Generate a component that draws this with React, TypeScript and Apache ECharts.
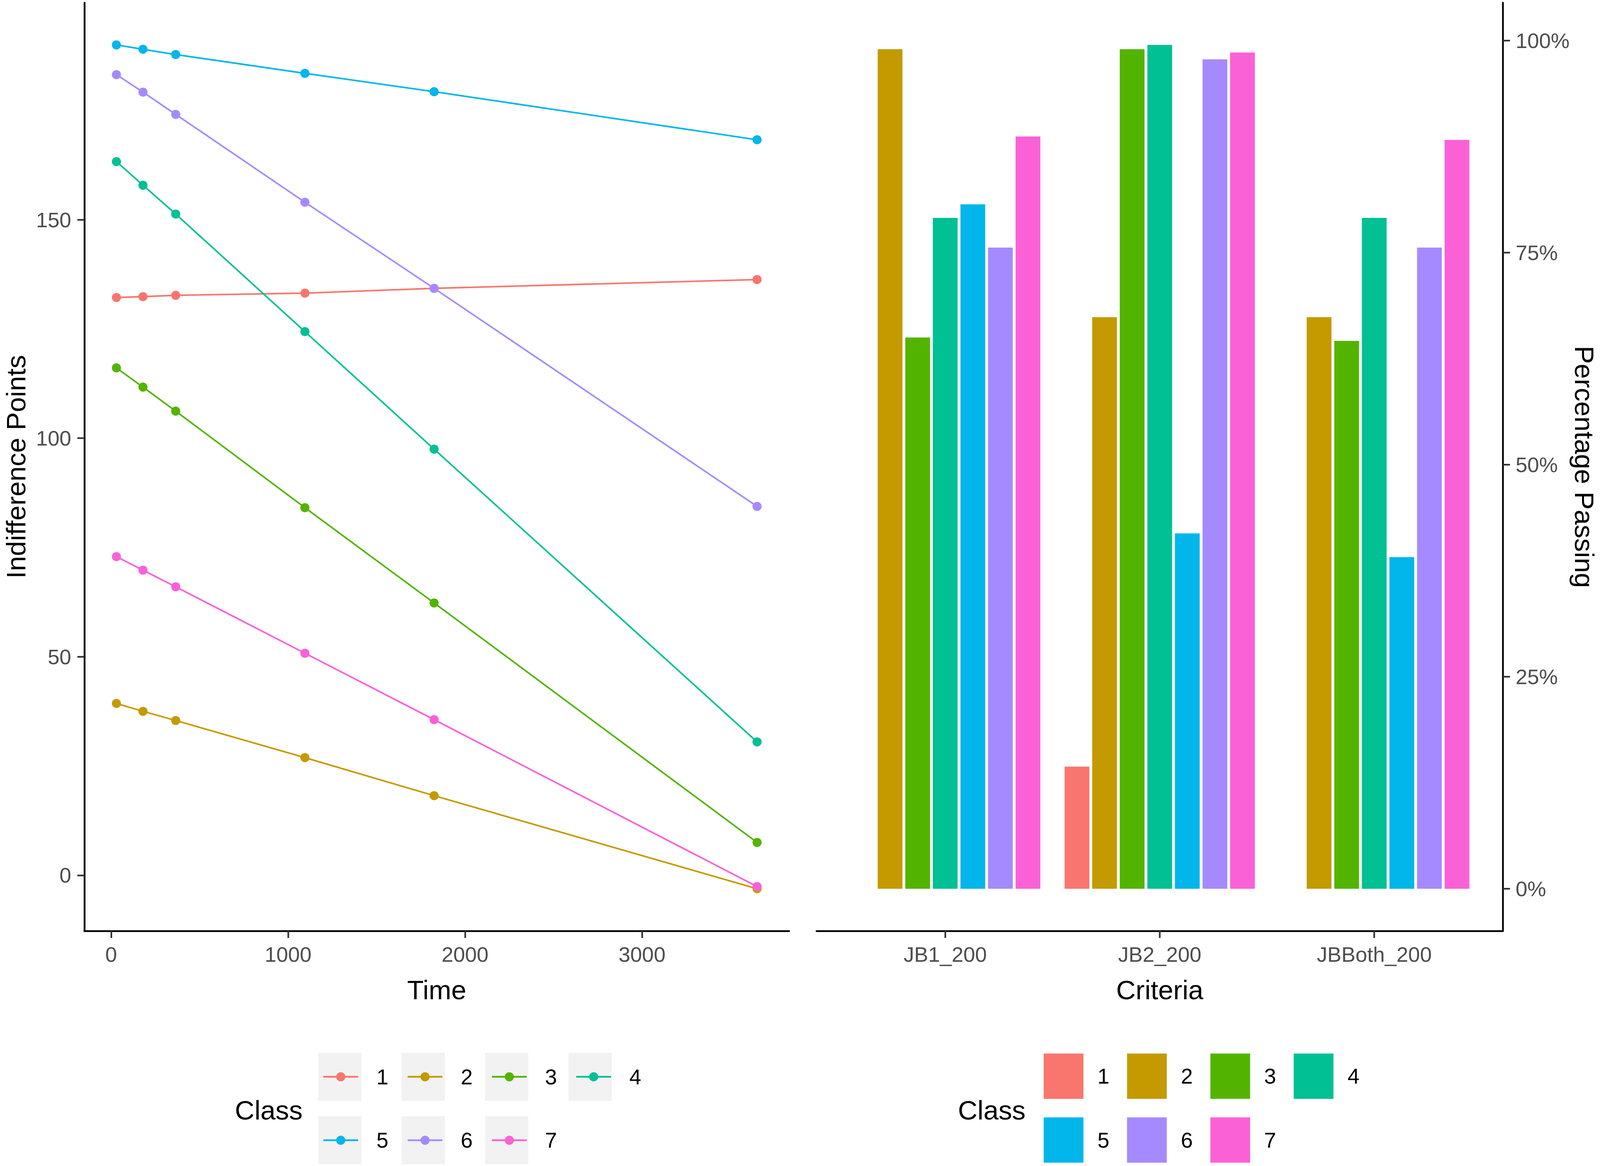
import React, { useEffect, useRef } from "react";
import * as echarts from "echarts";

// ---------- data ----------
const times = [30, 180, 365, 1095, 1825, 3650];
const classes = ["1", "2", "3", "4", "5", "6", "7"];
const classColors = ["#F8766D", "#C49A00", "#53B400", "#00C094", "#00B6EB", "#A58AFF", "#FB61D7"];

// Indifference points per class at each time
const ipClass1 = [132.2, 132.4, 132.7, 133.2, 134.3, 136.3];
const ipClass2 = [39.3, 37.5, 35.4, 26.9, 18.2, -3.1];
const ipClass3 = [116.1, 111.7, 106.2, 84.1, 62.3, 7.5];
const ipClass4 = [163.3, 157.9, 151.3, 124.4, 97.5, 30.5];
const ipClass5 = [190.0, 189.0, 187.8, 183.5, 179.3, 168.3];
const ipClass6 = [183.2, 179.2, 174.1, 154.0, 134.3, 84.4];
const ipClass7 = [72.9, 69.8, 66.0, 50.8, 35.6, -2.6];

// Percentage passing per class for each criterion
const criteria = ["JB1_200", "JB2_200", "JBBoth_200"];
const passClass1 = [null, 14.4, null];
const passClass2 = [99.0, 67.4, 67.4];
const passClass3 = [65.0, 99.0, 64.6];
const passClass4 = [79.1, 99.5, 79.1];
const passClass5 = [80.7, 41.9, 39.1];
const passClass6 = [75.6, 97.8, 75.6];
const passClass7 = [88.7, 98.6, 88.3];

// tick labels
const timeTicks = [0, 1000, 2000, 3000];
const ipTicks = [0, 50, 100, 150];
const pctTicks = [0, 25, 50, 75, 100];

const ipByClass = [ipClass1, ipClass2, ipClass3, ipClass4, ipClass5, ipClass6, ipClass7];
const passByClass: any[] = [passClass1, passClass2, passClass3, passClass4, passClass5, passClass6, passClass7];

const FONT = "'Liberation Sans', Arial, Helvetica, sans-serif";
const REF_W = 4550;
const REF_H = 2986;

function expand(vals: number[]) {
  const mn = Math.min(...vals);
  const mx = Math.max(...vals);
  const pad = 0.05 * (mx - mn);
  return [mn - pad, mx + pad];
}

export default function App() {
  const ref = useRef<HTMLDivElement>(null);
  useEffect(() => {
    document.body.style.margin = "0";
    document.body.style.overflow = "hidden";
    document.documentElement.style.overflow = "hidden";
    const el = ref.current;
    if (!el) return;
    const W = window.innerWidth || REF_W;
    const H = window.innerHeight || REF_H;
    el.style.width = W + "px";
    el.style.height = H + "px";
    const sx = W / REF_W;
    const sy = H / REF_H;
    const f = Math.min(sx, sy);
    const X = (v: number) => v * sx;
    const Y = (v: number) => v * sy;
    const F = (v: number) => v * f;

    const TICK_FS = F(60);
    const TITLE_FS = F(77);
    const LEG_FS = F(61);

    const chart = echarts.init(el, null, { renderer: "svg", width: W, height: H });

    const [tMin, tMax] = expand(times);
    const [ipMin, ipMax] = expand(ipByClass.flat());
    const passVals = passByClass.flat().filter((v: any) => v != null) as number[];
    const [pMin, pMax] = expand([0, ...passVals]);

    const axisLine = { show: true, onZero: false, lineStyle: { color: "#000", width: F(5) } };
    const axisTick = { show: true, length: F(20), lineStyle: { color: "#333333", width: F(4.7) } };
    const labelBase = { color: "#4D4D4D", fontSize: TICK_FS, fontFamily: FONT };
    const nameStyle = { color: "#000", fontSize: TITLE_FS, fontFamily: FONT };

    const lineSeries = classes.map((c, i) => ({
      type: "line",
      name: c,
      xAxisIndex: 0,
      yAxisIndex: 0,
      data: times.map((t, j) => [t, ipByClass[i][j]]),
      symbol: "circle",
      symbolSize: F(26),
      showAllSymbol: true,
      color: classColors[i],
      lineStyle: { width: F(4.5), color: classColors[i] },
      itemStyle: { color: classColors[i] },
      emphasis: { disabled: true },
      silent: true,
    }));

    const barSeries = classes.map((c, i) => ({
      type: "bar",
      name: "bar-" + c,
      xAxisIndex: 1,
      yAxisIndex: 1,
      data: passByClass[i],
      barGap: "11.4%",
      barCategoryGap: "11.3%",
      color: classColors[i],
      itemStyle: { color: classColors[i] },
      emphasis: { disabled: true },
      silent: true,
    }));

    const digitW = 0.556 * LEG_FS;
    // line legend: key boxes 123 wide, line 99 wide centred, text 40 after box
    const lineIconW = X(99);
    const linePad = X(52) - 5;
    const lineGap = X(237.2) - lineIconW - 5 - linePad - digitW;
    const lineLegendCommon = {
      orient: "horizontal",
      left: X(917),
      itemWidth: lineIconW,
      itemHeight: F(32.5),
      itemGap: lineGap,
      padding: 0,
      selectedMode: false,
      lineStyle: { width: F(5) },
      itemStyle: { borderWidth: 0 },
      textStyle: { fontSize: LEG_FS, color: "#000", fontFamily: FONT, padding: [0, 0, 0, linePad], lineHeight: LEG_FS },
    };
    const barIconW = X(113);
    const barPad = X(40) - 5;
    const barGapL = X(237) - barIconW - 5 - barPad - digitW;
    const barLegendCommon = {
      orient: "horizontal",
      left: X(2968),
      itemWidth: barIconW,
      itemHeight: Y(116),
      itemGap: barGapL,
      padding: 0,
      icon: "rect",
      selectedMode: false,
      itemStyle: { borderWidth: 0 },
      formatter: (n: string) => n.replace("bar-", ""),
      textStyle: { fontSize: LEG_FS, color: "#000", fontFamily: FONT, padding: [0, 0, 0, barPad], lineHeight: LEG_FS },
    };

    const keyCenters = [966.5, 1203.7, 1440.9, 1678.1];
    const keyRects: any[] = [];
    const addKey = (cx: number, cy: number) =>
      keyRects.push({
        type: "rect",
        shape: { x: X(cx - 61.5), y: Y(cy - 61.5), width: X(123), height: Y(123) },
        style: { fill: "#F2F2F2" },
        z: -10,
        silent: true,
      });
    keyCenters.forEach((cx) => addKey(cx, 2757.5));
    keyCenters.slice(0, 3).forEach((cx) => addKey(cx, 2920));

    const classTitle = (x: number) => ({
      type: "text",
      x: X(x),
      y: Y(2843),
      silent: true,
      style: {
        text: "Class",
        fontSize: TITLE_FS,
        fontFamily: FONT,
        fill: "#000",
        align: "left",
        verticalAlign: "middle",
        textAlign: "left",
        textVerticalAlign: "middle",
      },
    });

    const gridCommon = { containLabel: false, outerBoundsMode: "none" };
    const option: any = {
      animation: false,
      backgroundColor: "#ffffff",
      grid: [
        { ...gridCommon, left: X(240), top: Y(7), width: X(2004), height: Y(2377) },
        { ...gridCommon, left: X(2383), top: Y(7), width: X(1830), height: Y(2377) },
        { ...gridCommon, left: X(2322), top: Y(7), width: X(1952), height: Y(2377) },
      ],
      xAxis: [
        {
          type: "value",
          gridIndex: 0,
          min: tMin,
          max: tMax,
          name: "Time",
          nameLocation: "middle",
          nameGap: Y(116.5),
          nameMoveOverlap: false,
          nameTextStyle: nameStyle,
          axisLine,
          axisTick: { ...axisTick, customValues: timeTicks },
          axisLabel: { ...labelBase, margin: Y(33), customValues: timeTicks, formatter: (v: number) => String(v) },
          splitLine: { show: false },
        },
        {
          type: "category",
          gridIndex: 1,
          data: criteria,
          boundaryGap: true,
          name: "Criteria",
          nameLocation: "middle",
          nameGap: Y(116.5),
          nameMoveOverlap: false,
          nameTextStyle: nameStyle,
          axisLine: { show: false, onZero: false },
          axisTick: { ...axisTick, alignWithLabel: true },
          axisLabel: { ...labelBase, margin: Y(33), interval: 0 },
          splitLine: { show: false },
        },
        {
          type: "value",
          gridIndex: 2,
          min: 0,
          max: 1,
          axisLine,
          axisTick: { show: false },
          axisLabel: { show: false },
          splitLine: { show: false },
        },
      ],
      yAxis: [
        {
          type: "value",
          gridIndex: 0,
          min: ipMin,
          max: ipMax,
          name: "Indifference Points",
          nameLocation: "middle",
          nameGap: X(156),
          nameMoveOverlap: false,
          nameTextStyle: nameStyle,
          axisLine,
          axisTick: { ...axisTick, customValues: ipTicks },
          axisLabel: { ...labelBase, margin: X(37.5), customValues: ipTicks, formatter: (v: number) => String(v) },
          splitLine: { show: false },
        },
        {
          type: "value",
          gridIndex: 1,
          position: "right",
          offset: X(61),
          min: pMin,
          max: pMax,
          name: "Percentage Passing",
          nameLocation: "middle",
          nameRotate: -90,
          nameGap: X(193),
          nameMoveOverlap: false,
          nameTextStyle: nameStyle,
          axisLine,
          axisTick: { ...axisTick, customValues: pctTicks },
          axisLabel: { ...labelBase, margin: X(36), customValues: pctTicks, formatter: (v: number) => v + "%" },
          splitLine: { show: false },
        },
        {
          type: "value",
          gridIndex: 2,
          min: 0,
          max: 1,
          show: false,
        },
      ],
      legend: [
        { ...lineLegendCommon, top: Y(2757.5) - LEG_FS / 2, data: ["1", "2", "3", "4"] },
        { ...lineLegendCommon, top: Y(2920) - LEG_FS / 2, data: ["5", "6", "7"] },
        { ...barLegendCommon, top: Y(2698), data: ["bar-1", "bar-2", "bar-3", "bar-4"] },
        { ...barLegendCommon, top: Y(2861.5), data: ["bar-5", "bar-6", "bar-7"] },
      ],
      graphic: [...keyRects, classTitle(668), classTitle(2724)],
      series: [...lineSeries, ...barSeries],
    };

    chart.setOption(option);
    return () => {
      chart.dispose();
    };
  }, []);

  return <div ref={ref} style={{ width: "100vw", height: "100vh" }} />;
}
